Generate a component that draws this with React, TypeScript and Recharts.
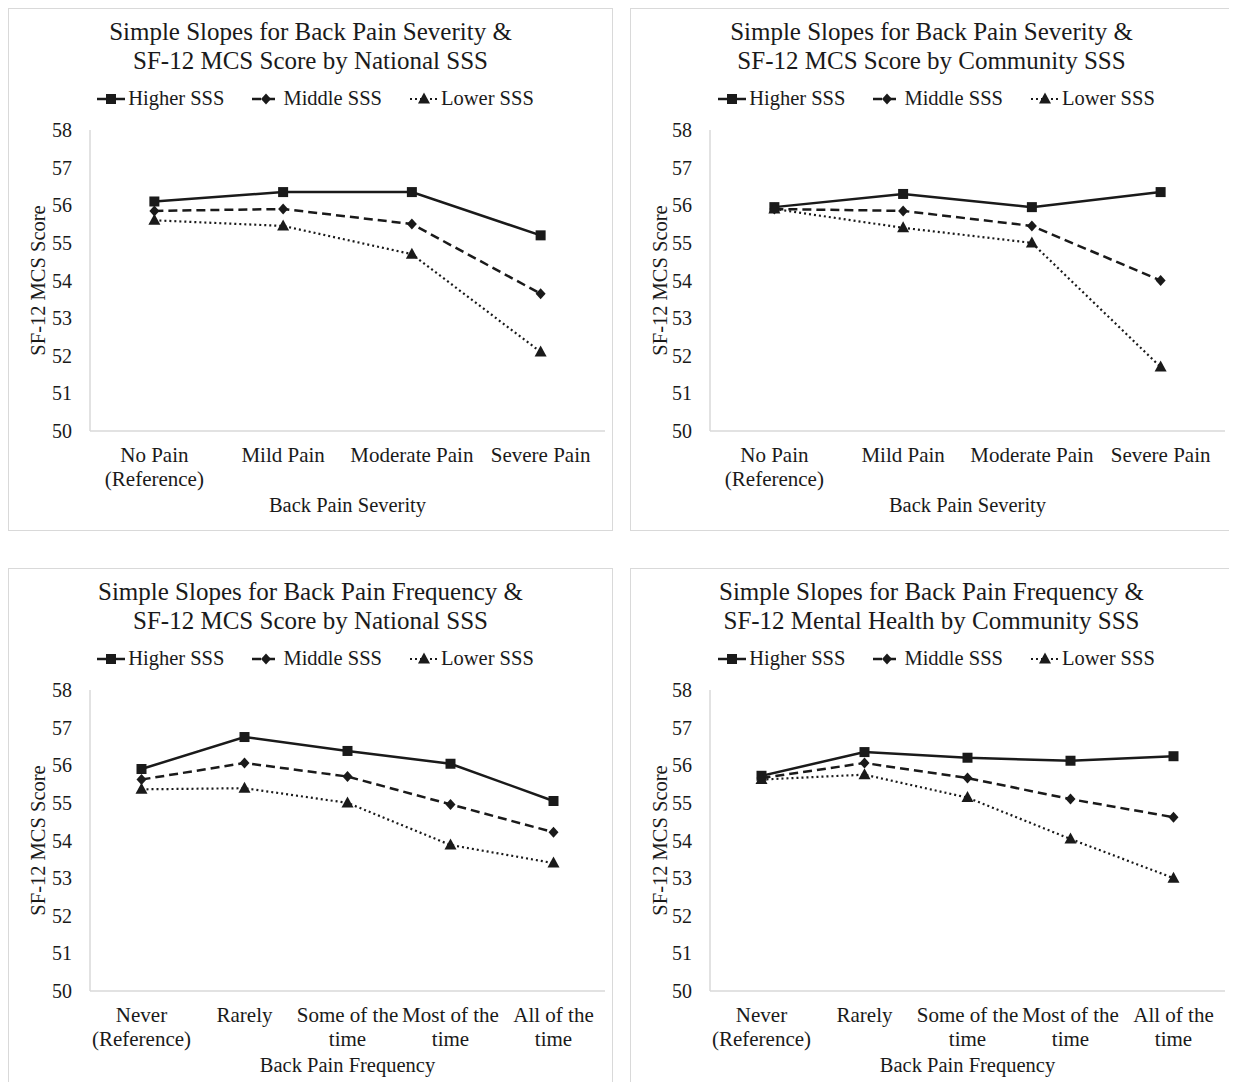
import React from "react";
import { LineChart, Line, XAxis, YAxis } from "recharts";

// category labels ("\n" marks a line break in the tick)
const severityCats = ["No Pain\n(Reference)", "Mild Pain", "Moderate Pain", "Severe Pain"];
const frequencyCats = ["Never\n(Reference)", "Rarely", "Some of the\ntime", "Most of the\ntime", "All of the\ntime"];

const seriesNames = ["Higher SSS", "Middle SSS", "Lower SSS"];
const yTicks = [50, 51, 52, 53, 54, 55, 56, 57, 58];

// severity x national SSS
const sevNatHigher = [56.1, 56.35, 56.35, 55.2];
const sevNatMiddle = [55.85, 55.9, 55.5, 53.65];
const sevNatLower = [55.6, 55.45, 54.7, 52.1];

// severity x community SSS
const sevComHigher = [55.95, 56.3, 55.95, 56.35];
const sevComMiddle = [55.9, 55.85, 55.45, 54.0];
const sevComLower = [55.9, 55.4, 55.0, 51.7];

// frequency x national SSS
const freqNatHigher = [55.9, 56.75, 56.38, 56.04, 55.05];
const freqNatMiddle = [55.62, 56.06, 55.7, 54.96, 54.22];
const freqNatLower = [55.36, 55.39, 55.0, 53.88, 53.4];

// frequency x community SSS
const freqComHigher = [55.72, 56.35, 56.2, 56.12, 56.24];
const freqComMiddle = [55.66, 56.06, 55.66, 55.1, 54.62];
const freqComLower = [55.62, 55.75, 55.14, 54.04, 53.0];

const FONT = '"Liberation Serif", "Times New Roman", serif';
const INK = "#1a1a1a";
const AXIS = "#d9d9d9";
const RIGHT = 7;

const Square = ({ cx, cy }: any) => <rect x={cx - 5} y={cy - 5} width={10} height={10} fill={INK} />;
const Diamond = ({ cx, cy }: any) => (
  <polygon points={`${cx},${cy - 5.5} ${cx + 5},${cy} ${cx},${cy + 5.5} ${cx - 5},${cy}`} fill={INK} />
);
const Triangle = ({ cx, cy }: any) => (
  <polygon points={`${cx},${cy - 6.5} ${cx + 6},${cy + 4.5} ${cx - 6},${cy + 4.5}`} fill={INK} />
);

const styles = [
  { dash: undefined, width: 2.5, Marker: Square },
  { dash: "9 5", width: 2.5, Marker: Diamond },
  { dash: "2 3", width: 2.2, Marker: Triangle },
];

function CatTick({ x, y, payload }: any) {
  const lines = String(payload.value).split("\n");
  return (
    <text x={x} y={y} textAnchor="middle" fontFamily={FONT} fontSize={21} fill={INK}>
      {lines.map((l, i) => (
        <tspan key={i} x={x} y={y + 23 + i * 24}>
          {l}
        </tspan>
      ))}
    </text>
  );
}

function LegendRow() {
  return (
    <div
      style={{
        position: "absolute",
        top: 78,
        left: 0,
        width: "100%",
        display: "flex",
        justifyContent: "center",
        gap: 28,
        paddingLeft: 10,
        boxSizing: "border-box",
        fontFamily: FONT,
        fontSize: 20.5,
        color: INK,
        whiteSpace: "nowrap",
      }}
    >
      {seriesNames.map((n, i) => {
        const s = styles[i];
        const M = s.Marker;
        return (
          <div key={n} style={{ display: "flex", alignItems: "center", gap: 3 }}>
            <svg width={28} height={20}>
              <line x1={0} y1={10} x2={28} y2={10} stroke={INK} strokeWidth={s.width} strokeDasharray={s.dash} />
              <M cx={14} cy={10} />
            </svg>
            <span>{n}</span>
          </div>
        );
      })}
    </div>
  );
}

interface PanelProps {
  title: string[];
  cats: string[];
  values: number[][];
  xTitle: string;
  left: number;
  top: number;
  width: number;
  height: number;
  axisWidth: number;
  xAxisHeight: number;
}

function Panel({ title, cats, values, xTitle, left, top, width, height, axisWidth, xAxisHeight }: PanelProps) {
  const data = cats.map((c, i) => ({
    cat: c,
    higher: values[0][i],
    middle: values[1][i],
    lower: values[2][i],
  }));
  const keys = ["higher", "middle", "lower"];
  const chartW = width - 2;
  const halfBand = (chartW - axisWidth - RIGHT) / cats.length / 2;
  return (
    <div
      style={{
        position: "absolute",
        left,
        top,
        width,
        height,
        border: `1px solid ${AXIS}`,
        boxSizing: "border-box",
        background: "#fff",
      }}
    >
      <div
        style={{
          position: "absolute",
          top: 8,
          left: 0,
          width: "100%",
          textAlign: "center",
          fontFamily: FONT,
          fontSize: 25,
          lineHeight: "29px",
          color: INK,
          whiteSpace: "nowrap",
        }}
      >
        {title.map((t) => (
          <div key={t}>{t}</div>
        ))}
      </div>
      <LegendRow />
      <div style={{ position: "absolute", top: 0, left: 0 }}>
        <LineChart width={chartW} height={height - 2} data={data} margin={{ top: 121, right: RIGHT, bottom: 0, left: 0 }}>
          <XAxis
            dataKey="cat"
            tickLine={false}
            axisLine={{ stroke: AXIS, strokeWidth: 1.5 }}
            tick={<CatTick />}
            interval={0}
            height={xAxisHeight}
            padding={{ left: halfBand, right: halfBand }}
            label={({ viewBox }: any) => (
              <text
                x={viewBox.x + viewBox.width / 2}
                y={viewBox.y + 81}
                textAnchor="middle"
                fontFamily={FONT}
                fontSize={20.5}
                fill={INK}
              >
                {xTitle}
              </text>
            )}
          />
          <YAxis
            domain={[50, 58]}
            ticks={yTicks}
            tickLine={false}
            axisLine={{ stroke: AXIS, strokeWidth: 1.5 }}
            width={axisWidth}
            tick={{ fontFamily: FONT, fontSize: 20, fill: INK }}
            tickMargin={12}
            label={({ viewBox }: any) => {
              const cx = viewBox.x + 29;
              const cy = viewBox.y + viewBox.height / 2;
              return (
                <text
                  x={cx}
                  y={cy}
                  transform={`rotate(-90 ${cx} ${cy})`}
                  textAnchor="middle"
                  dominantBaseline="central"
                  fontFamily={FONT}
                  fontSize={20.5}
                  fill={INK}
                >
                  SF-12 MCS Score
                </text>
              );
            }}
          />
          {keys.map((k, i) => {
            const s = styles[i];
            const M = s.Marker;
            return (
              <Line
                key={k}
                dataKey={k}
                name={seriesNames[i]}
                stroke={INK}
                strokeWidth={s.width}
                strokeDasharray={s.dash}
                dot={(p: any) => <M key={`${k}-${p.index}`} cx={p.cx} cy={p.cy} />}
                activeDot={false}
                isAnimationActive={false}
              />
            );
          })}
        </LineChart>
      </div>
    </div>
  );
}

export default function App() {
  return (
    <div style={{ position: "relative", width: 1224, height: 1074 }}>
      <style>{`html, body { overflow: hidden; }`}</style>
      <Panel
        title={["Simple Slopes for Back Pain Severity &", "SF-12 MCS Score by National SSS"]}
        cats={severityCats}
        values={[sevNatHigher, sevNatMiddle, sevNatLower]}
        xTitle="Back Pain Severity"
        left={0}
        top={0}
        width={605}
        height={523}
        axisWidth={81}
        xAxisHeight={99}
      />
      <Panel
        title={["Simple Slopes for Back Pain Severity &", "SF-12 MCS Score by Community SSS"]}
        cats={severityCats}
        values={[sevComHigher, sevComMiddle, sevComLower]}
        xTitle="Back Pain Severity"
        left={622}
        top={0}
        width={603}
        height={523}
        axisWidth={79}
        xAxisHeight={99}
      />
      <Panel
        title={["Simple Slopes for Back Pain Frequency &", "SF-12 MCS Score by National SSS"]}
        cats={frequencyCats}
        values={[freqNatHigher, freqNatMiddle, freqNatLower]}
        xTitle="Back Pain Frequency"
        left={0}
        top={560}
        width={605}
        height={521}
        axisWidth={81}
        xAxisHeight={97}
      />
      <Panel
        title={["Simple Slopes for Back Pain Frequency &", "SF-12 Mental Health by Community SSS"]}
        cats={frequencyCats}
        values={[freqComHigher, freqComMiddle, freqComLower]}
        xTitle="Back Pain Frequency"
        left={622}
        top={560}
        width={603}
        height={521}
        axisWidth={79}
        xAxisHeight={97}
      />
    </div>
  );
}
